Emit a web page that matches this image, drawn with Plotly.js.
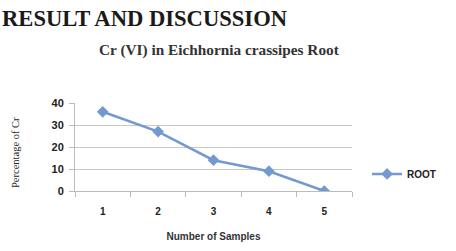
<!DOCTYPE html>
<html><head><meta charset="utf-8">
<script src="https://cdn.plot.ly/plotly-3.0.1.min.js"></script>
<style>html,body{margin:0;padding:0;background:#fff}#c{width:456px;height:251px}</style>
</head><body><div id="c"></div>
<script>
const samples = ['1','2','3','4','5'];
const rootValues = [36, 27, 14, 9, 0];
const yTicks = [0, 10, 20, 30, 40];
const seriesName = 'ROOT';

const lineColor = '#7399d0';
const data = [{
  type: 'scatter', mode: 'lines+markers', name: seriesName,
  x: samples, y: rootValues,
  line: {color: lineColor, width: 2.5},
  marker: {symbol: 'diamond', size: 9, color: lineColor}
}];
const PL = 75, PT = 103, PW = 277, PH = 88;
const px = x => (x - PL) / PW;
const py = y => (PT + PH - y) / PH;
const layout = {
  width: 456, height: 251,
  margin: {l: PL, r: 456 - PL - PW, t: PT, b: 251 - PT - PH},
  paper_bgcolor: '#fff', plot_bgcolor: '#fff',
  showlegend: true,
  legend: {xref: 'container', yref: 'container', x: 0.805, y: 0.307, xanchor: 'left', yanchor: 'middle',
    font: {family: 'Liberation Sans, Arial, sans-serif', size: 10, color: '#222', weight: 'bold'}, bgcolor: 'rgba(0,0,0,0)'},
  xaxis: {type: 'category', range: [-0.5, 4.5], tickson: 'boundaries', ticks: 'outside', ticklen: 5,
    tickcolor: '#bbb', showline: true, linecolor: '#bbb', linewidth: 1, showgrid: false, zeroline: false,
    tickfont: {family: 'Liberation Sans, Arial, sans-serif', size: 10, color: '#222', weight: 'bold'},
    ticklabelstandoff: 11,
    title: {text: '<b>Number of Samples</b>', font: {family: 'Liberation Sans, Arial, sans-serif', size: 10, color: '#333'}, standoff: 16}},
  yaxis: {range: [0, 40], tickvals: yTicks, ticks: 'outside', ticklen: 5, tickcolor: '#bbb',
    showline: true, linecolor: '#bbb', linewidth: 1, showgrid: true, gridcolor: '#c8c8c8', zeroline: false,
    tickfont: {family: 'Liberation Sans, Arial, sans-serif', size: 11, color: '#222', weight: 'bold'},
    ticklabelstandoff: 3},
  annotations: [
    {text: '<b>RESULT AND DISCUSSION</b>', xref: 'paper', yref: 'paper', x: px(0), y: py(18), xanchor: 'left', yanchor: 'middle',
      showarrow: false, font: {family: 'Liberation Serif, Times New Roman, serif', size: 22.6, color: '#1a1a1a'}},
    {text: '<b>Cr (VI) in Eichhornia crassipes Root</b>', xref: 'paper', yref: 'paper', x: px(219), y: py(50),
      xanchor: 'center', yanchor: 'middle', showarrow: false, font: {family: 'Liberation Serif, Times New Roman, serif', size: 15.3, color: '#333'}},
    {text: 'Percentage of Cr', xref: 'paper', yref: 'paper', x: px(15), y: py(153), textangle: -90,
      xanchor: 'center', yanchor: 'middle', showarrow: false, font: {family: 'Liberation Serif, Times New Roman, serif', size: 10.5, color: '#222'}}
  ]
};
Plotly.newPlot('c', data, layout, {staticPlot: true, displayModeBar: false});
</script></body></html>
